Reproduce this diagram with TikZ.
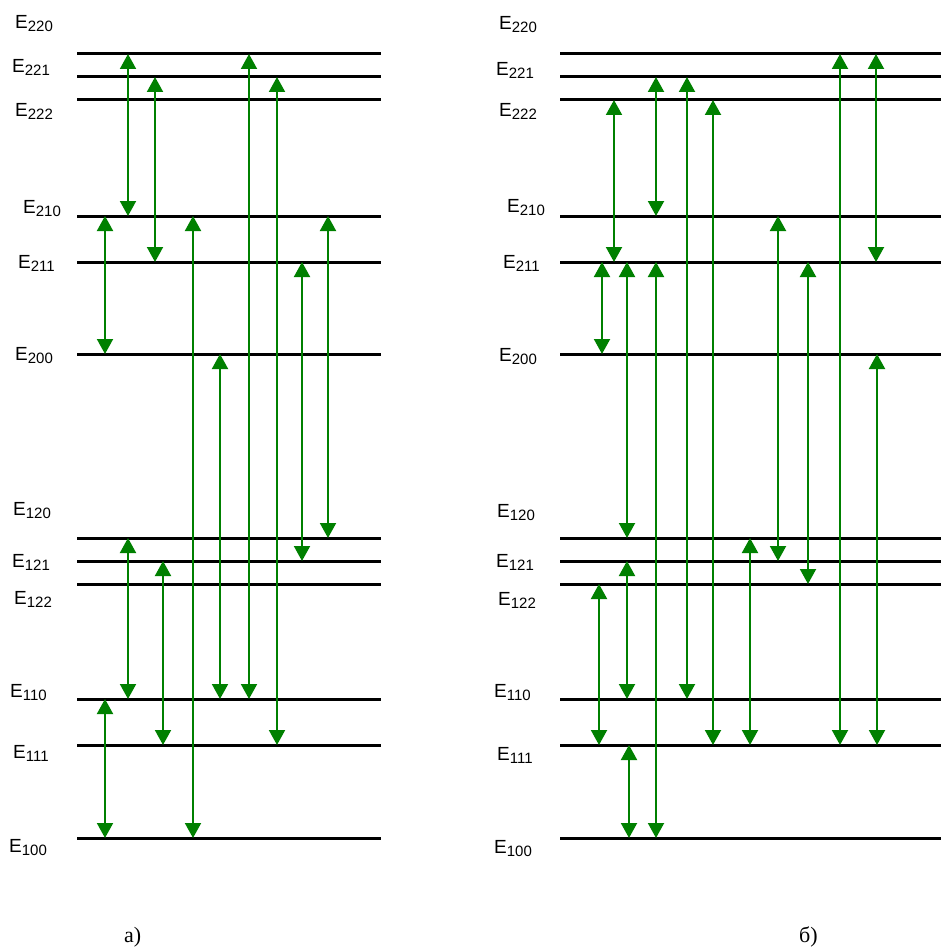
\documentclass[tikz,border=0pt]{standalone}
\usepackage{fontspec}
\setmainfont{Liberation Serif}
\newfontfamily\lblfont{Liberation Sans}
\usetikzlibrary{arrows.meta}
\definecolor{trgreen}{RGB}{0,128,0}
% level label: E with a lowered, smaller index
\newcommand\levname[1]{E\raisebox{-3pt}{\fontsize{15}{15}\selectfont #1}}
\begin{document}
\begin{tikzpicture}[x=1pt,y=-1pt,
  levelline/.style={line width=3pt,black},
  tr/.style={trgreen,line width=2pt,
    {Triangle[width=16pt,length=15pt]}-{Triangle[width=16pt,length=15pt]}},
  lbl/.style={anchor=base west,inner sep=0pt,
    font=\lblfont\fontsize{19}{19}\selectfont},
  captext/.style={anchor=base west,inner sep=0pt,
    font=\fontsize{22}{22}\selectfont}]
\useasboundingbox (0,0) rectangle (941,947);

% heights of the energy levels
\foreach \n/\y in {220/54,221/77,222/100,210/216,211/262,200/354,
                   120/538,121/561,122/584,110/699,111/745,100/838}
  \coordinate (e\n) at (0,\y);

% level lines, panel a) and panel b)
\foreach \n in {220,221,222,210,211,200,120,121,122,110,111,100}{
  \draw[levelline] (77,0 |- e\n) -- (381,0 |- e\n);
  \draw[levelline] (560,0 |- e\n) -- (941,0 |- e\n);
}

% labels, panel a)
\node[lbl] (la220) at (15,29)  {\levname{220}};
\node[lbl] (la221) at (12,73)  {\levname{221}};
\node[lbl] (la222) at (15,117) {\levname{222}};
\node[lbl] (la210) at (23,213) {\levname{210}};
\node[lbl] (la211) at (18,268) {\levname{211}};
\node[lbl] (la200) at (15,360) {\levname{200}};
\node[lbl] (la120) at (13,515) {\levname{120}};
\node[lbl] (la121) at (12,567) {\levname{121}};
\node[lbl] (la122) at (14,604) {\levname{122}};
\node[lbl] (la110) at (10,697) {\levname{110}};
\node[lbl] (la111) at (13,758) {\levname{111}};
\node[lbl] (la100) at (9,852)  {\levname{100}};

% labels, panel b)
\node[lbl] (lb220) at (499,30)  {\levname{220}};
\node[lbl] (lb221) at (496,76)  {\levname{221}};
\node[lbl] (lb222) at (499,117) {\levname{222}};
\node[lbl] (lb210) at (507,212) {\levname{210}};
\node[lbl] (lb211) at (503,268) {\levname{211}};
\node[lbl] (lb200) at (499,361) {\levname{200}};
\node[lbl] (lb120) at (497,517) {\levname{120}};
\node[lbl] (lb121) at (496,567) {\levname{121}};
\node[lbl] (lb122) at (498,605) {\levname{122}};
\node[lbl] (lb110) at (494,697) {\levname{110}};
\node[lbl] (lb111) at (497,760) {\levname{111}};
\node[lbl] (lb100) at (494,853) {\levname{100}};

% transitions, panel a)
\foreach \x/\a/\b in {128/220/210,155/221/211,105/210/200,193/210/100,
                      249/220/110,277/221/111,302/211/121,328/210/120,
                      220/200/110,128/120/110,163/121/111,105/110/100}
  \draw[tr] (\x,0 |- e\a) -- (\x,0 |- e\b);

% transitions, panel b)
\foreach \x/\a/\b in {614/222/211,656/221/210,687/221/110,713/222/111,
                      778/210/121,808/211/122,840/220/111,876/220/211,
                      877/200/111,602/211/200,627/211/120,627/121/110,
                      656/211/100,750/120/111,599/122/111,629/111/100}
  \draw[tr] (\x,0 |- e\a) -- (\x,0 |- e\b);

% panel captions
\node[captext] (capa) at (124,942) {а)};
\node[captext] (capb) at (799,942) {б)};
\end{tikzpicture}
\end{document}
